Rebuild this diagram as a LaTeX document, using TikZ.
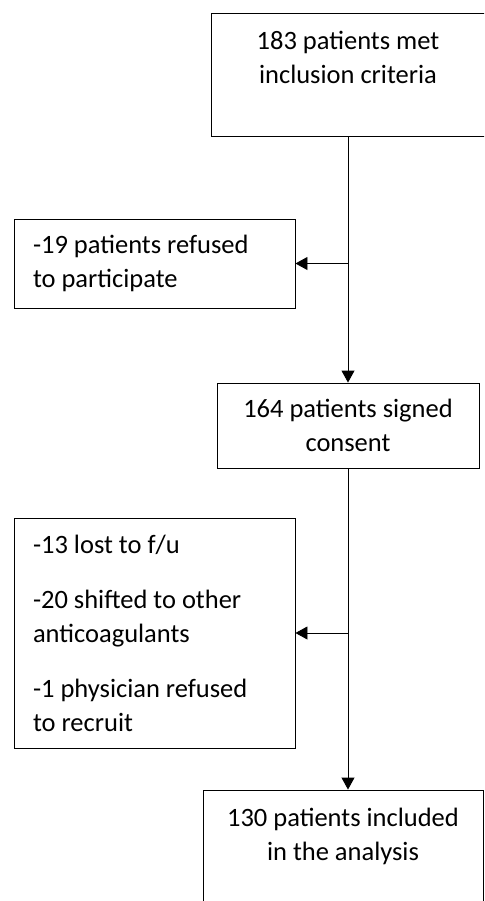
\documentclass[tikz,border=0pt]{standalone}
\usepackage{fontspec}
\setmainfont{Carlito}
\usepackage{tikz}
\usetikzlibrary{arrows.meta,positioning}
\tikzset{
  box/.style={draw=black, line width=0.9pt, align=center, inner sep=0pt, font=\fontsize{26.5}{34}\selectfont},
  sidebox/.style={draw=black, line width=0.9pt, align=flush left, text width=243pt, inner xsep=19pt, inner ysep=0pt, font=\fontsize{26.5}{34}\selectfont},
  arrow/.style={-{Triangle[length=12pt,width=13pt]}, line width=0.9pt}
}
\begin{document}
\begin{tikzpicture}[x=1pt,y=-1pt]
\useasboundingbox (0,0) rectangle (484,901);
\clip (0,0) rectangle (484,901);
\node[box, minimum width=274pt, minimum height=123pt] (met) at (348,74.5) {183 patients met\\inclusion criteria\\\mbox{}};
\node[sidebox, minimum height=89pt] (refused) at (154.5,263.5) {-19 patients refused\\to participate};
\node[box, minimum width=262pt, minimum height=85pt] (consent) at (348,425.5) {164 patients signed\\consent};
\node[sidebox, minimum height=230pt] (lost) at (154.5,633) {-13 lost to f/u\\[21pt]-20 shifted to other\\anticoagulants\\[21pt]-1 physician refused\\to recruit};
\node[box, minimum width=280pt, minimum height=123pt] (analysis) at (343,851.5) {130 patients included\\in the analysis\\\mbox{}};
\draw[arrow] (met.south) -- (consent.north);
\draw[arrow] (met.south |- refused.east) -- (refused.east);
\draw[arrow] (consent.south) -- (consent.south |- analysis.north);
\draw[arrow] (consent.south |- lost.east) -- (lost.east);
\end{tikzpicture}
\end{document}
